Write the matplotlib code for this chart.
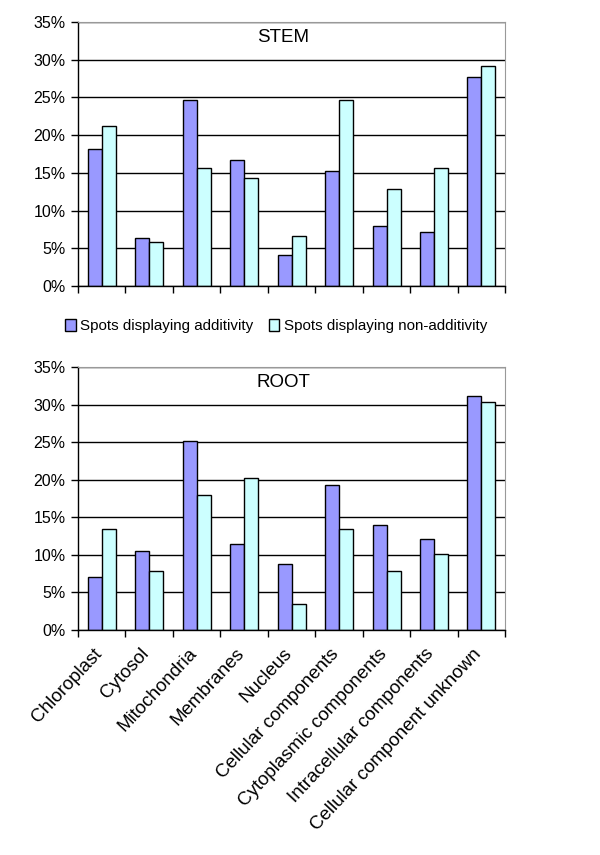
import matplotlib.pyplot as plt
import matplotlib.ticker as mticker
import matplotlib.transforms as mtransforms
from matplotlib.patches import Patch
import numpy as np

plt.rcParams['font.family'] = ['Liberation Sans', 'DejaVu Sans']

categories = ['Chloroplast', 'Cytosol', 'Mitochondria', 'Membranes', 'Nucleus',
              'Cellular components', 'Cytoplasmic components',
              'Intracellular components', 'Cellular component unknown']

stem_add = [18.1, 6.4, 24.7, 16.7, 4.1, 15.2, 7.9, 7.2, 27.7]
stem_nonadd = [21.2, 5.8, 15.6, 14.3, 6.6, 24.6, 12.9, 15.6, 29.1]

root_add = [7.0, 10.5, 25.2, 11.4, 8.8, 19.3, 14.0, 12.1, 31.2]
root_nonadd = [13.5, 7.8, 18.0, 20.2, 3.5, 13.5, 7.8, 10.1, 30.3]

series_names = ['Spots displaying additivity', 'Spots displaying non-additivity']
colors = ['#9999FF', '#CCFFFF']

fig = plt.figure(figsize=(6, 8.55), dpi=100)
ax1 = fig.add_axes([0.13, 0.6655, 0.712, 0.3088])
ax2 = fig.add_axes([0.13, 0.2632, 0.712, 0.3076])

x = np.arange(len(categories))
w = 0.295

def draw(ax, add, nonadd, title):
    ax.set_axisbelow(True)
    ax.bar(x - w / 2, add, w, color=colors[0], edgecolor='black', linewidth=1)
    ax.bar(x + w / 2, nonadd, w, color=colors[1], edgecolor='black', linewidth=1)
    ax.set_xlim(-0.5, len(categories) - 0.5)
    ax.set_ylim(0, 35)
    ax.yaxis.set_major_locator(mticker.MultipleLocator(5))
    ax.yaxis.set_major_formatter(mticker.FuncFormatter(lambda v, p: '%d%%' % v))
    ax.grid(axis='y', color='black', linewidth=1)
    ax.set_xticks(x)
    ax.set_xticks(np.arange(-0.5, len(categories)), minor=True)
    ax.tick_params(axis='x', which='major', length=0)
    ax.tick_params(axis='x', which='minor', length=5, width=1, direction='out')
    ax.tick_params(axis='y', length=5, width=1, direction='out', labelsize=11.5, pad=4)
    for s in ['top', 'right']:
        ax.spines[s].set_color('#999999')
    for s in ['left', 'bottom']:
        ax.spines[s].set_color('black')
        ax.spines[s].set_linewidth(1)
    ax.text(0.48, 0.94, title, transform=ax.transAxes, ha='center', va='center',
            fontsize=13.5)

draw(ax1, stem_add, stem_nonadd, 'STEM')
draw(ax2, root_add, root_nonadd, 'ROOT')

ax1.set_xticklabels([])
ax2.set_xticklabels(categories, rotation=47, ha='right', va='top',
                    rotation_mode='anchor', fontsize=13.5)
ax2.tick_params(axis='x', which='major', pad=11)
shift = mtransforms.ScaledTranslation(-9 / 100, 0, fig.dpi_scale_trans)
for lab in ax2.get_xticklabels():
    lab.set_transform(lab.get_transform() + shift)

handles = [Patch(facecolor=colors[0], edgecolor='black'),
           Patch(facecolor=colors[1], edgecolor='black')]
fig.legend(handles, series_names, loc='center', bbox_to_anchor=(0.46, 0.619),
           ncol=2, frameon=False, fontsize=10.9, handlelength=0.7,
           handleheight=0.9, handletextpad=0.3, columnspacing=1.0)

fig.savefig('out.png', dpi=100, facecolor='white')
